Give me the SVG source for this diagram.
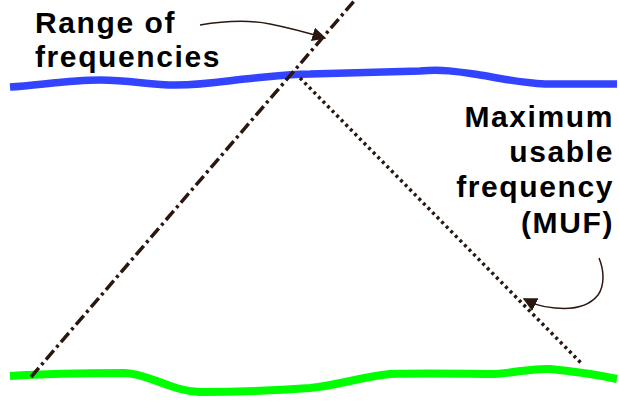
<svg xmlns="http://www.w3.org/2000/svg" width="619" height="402" viewBox="0 0 619 402">
<style>
.lbl{font-family:"Liberation Sans",Arial,sans-serif;font-weight:bold;font-size:30px;letter-spacing:1.6px;fill:#000}
.lbl-r{text-anchor:end}
.ray{fill:none;stroke:#2a1810;stroke-width:3.5}
.call{fill:none;stroke:#2a1810;stroke-width:1.5}
</style>
<defs>
<marker id="ah" viewBox="0 0 10 10" refX="9" refY="5" markerWidth="14" markerHeight="14" markerUnits="userSpaceOnUse" orient="auto">
<path d="M0,0 L10,5 L0,10 z" fill="#2a1810"/>
</marker>
</defs>
<g id="ionosphere">
<path d="M10,87 C40,85 70,80 100,80 C130,80 150,85 175,85 C210,85 230,80 255,78 C275,76 290,74 310,74 C350,73 390,72 420,71 C445,69 460,72 480,75 C505,79 520,83 545,84 C570,84 595,84 617,84" fill="none" stroke="#3344ff" stroke-width="7.5"/>
</g>
<g id="ground">
<path d="M10,376 C40,374 90,373 125,373 C150,374 170,391 200,392 C230,392 270,391 310,388 C340,385 360,377 390,374 C430,373 470,374 495,374 C520,372 535,368 550,369 C570,371 590,373 617,379" fill="none" stroke="#00ff00" stroke-width="8"/>
</g>
<g id="connectors">
<path class="ray" d="M31,377 L355,0" stroke-dasharray="12 4 3 4"/>
<path class="ray" d="M300,78 L582,364" stroke-width="3" stroke-dasharray="3 3.5"/>
<path class="call" d="M200,25 C230,20 250,20 270,24 C290,28 305,32 325,38" marker-end="url(#ah)"/>
<path class="call" d="M599,258 C604,270 605,285 598,295 C590,305 575,310 555,308 C540,307 532,303 524,299" marker-end="url(#ah)"/>
</g>
<g id="label-range">
<text class="lbl" x="35" y="33">Range of</text>
<text class="lbl" x="35" y="67">frequencies</text>
</g>
<g id="label-muf">
<text class="lbl lbl-r" x="614" y="127">Maximum</text>
<text class="lbl lbl-r" x="614" y="162">usable</text>
<text class="lbl lbl-r" x="614" y="197">frequency</text>
<text class="lbl lbl-r" x="614" y="233">(MUF)</text>
</g>
</svg>
